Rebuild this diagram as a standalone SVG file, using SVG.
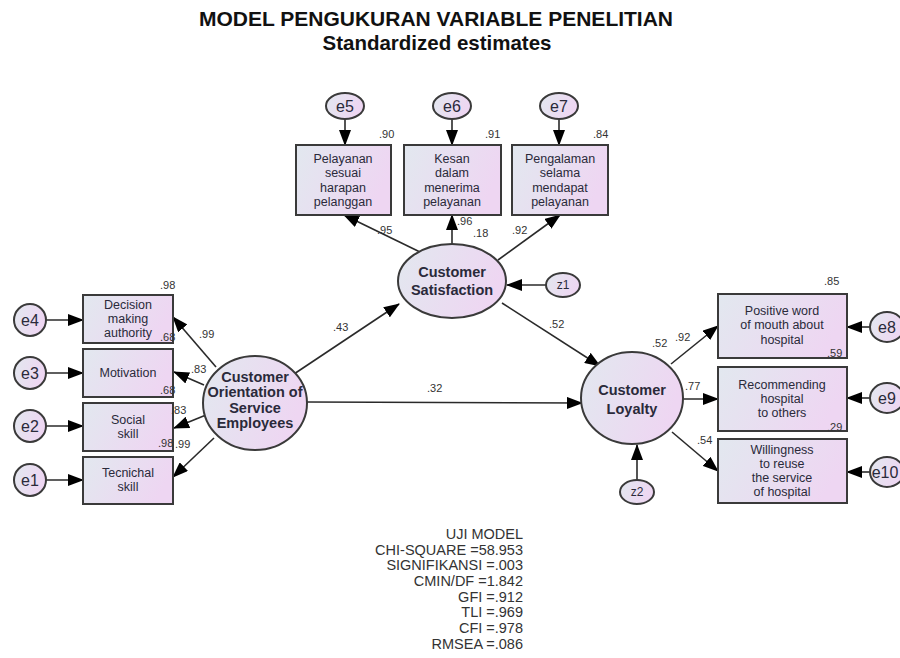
<svg xmlns="http://www.w3.org/2000/svg" width="900" height="658" viewBox="0 0 900 658">
<style>
.n{fill:url(#g);stroke:#3a3a3a;stroke-width:2}
.t{font-family:"Liberation Sans",Arial,sans-serif;font-size:12.5px;fill:#2a2a3a;text-anchor:middle}
.b{font-family:"Liberation Sans",Arial,sans-serif;font-size:14.5px;font-weight:bold;fill:#2a2a3a;text-anchor:middle}
.e{font-family:"Liberation Sans",Arial,sans-serif;font-size:16px;fill:#2a2a3a;text-anchor:middle}
.z{font-family:"Liberation Sans",Arial,sans-serif;font-size:12px;fill:#2a2a3a;text-anchor:middle}
.v{font-family:"Liberation Sans",Arial,sans-serif;font-size:11px;fill:#333}
.c line{stroke:#2a2a2a;stroke-width:1.6;marker-end:url(#a)}
.m{font-family:"Liberation Sans",Arial,sans-serif;font-size:14.5px;fill:#333;text-anchor:end}
</style>
<defs>
<linearGradient id="g" x1="0" y1="0" x2="1" y2="0.3">
<stop offset="0" stop-color="#e2e8ef"/>
<stop offset="1" stop-color="#eed6f2"/>
</linearGradient>
<marker id="a" markerUnits="userSpaceOnUse" markerWidth="16" markerHeight="12" refX="15" refY="6" orient="auto">
<path d="M0,0 L16,6 L0,12 Z" fill="#000"/>
</marker>
</defs>
<rect width="900" height="658" fill="#fff"/>
<text x="436" y="26" font-family="Liberation Sans,Arial,sans-serif" font-size="21" font-weight="bold" text-anchor="middle" fill="#111">MODEL PENGUKURAN VARIABLE PENELITIAN</text>
<text x="437" y="50" font-family="Liberation Sans,Arial,sans-serif" font-size="20.5" font-weight="bold" text-anchor="middle" fill="#111">Standardized estimates</text>

<g class="c" id="connectors">
<line x1="345" y1="119" x2="345" y2="145"/>
<line x1="452" y1="119" x2="452" y2="145"/>
<line x1="559" y1="119" x2="559" y2="145"/>
<line x1="420" y1="252" x2="344" y2="215"/>
<line x1="452" y1="243" x2="452" y2="215"/>
<line x1="498" y1="260" x2="560" y2="215"/>
<line x1="546" y1="285" x2="507" y2="285"/>
<line x1="46" y1="320" x2="83" y2="320"/>
<line x1="46" y1="373" x2="83" y2="373"/>
<line x1="46" y1="426" x2="83" y2="426"/>
<line x1="46" y1="480" x2="83" y2="480"/>
<line x1="216" y1="367" x2="173" y2="317"/>
<line x1="204" y1="385" x2="174" y2="372"/>
<line x1="206" y1="415" x2="174" y2="428"/>
<line x1="214" y1="438" x2="173" y2="477"/>
<line x1="294" y1="374" x2="399" y2="304"/>
<line x1="307" y1="402" x2="582" y2="403"/>
<line x1="502" y1="303" x2="600" y2="366"/>
<line x1="671" y1="364" x2="718" y2="326"/>
<line x1="683" y1="399" x2="718" y2="399"/>
<line x1="672" y1="432" x2="718" y2="471"/>
<line x1="870" y1="327" x2="847" y2="327"/>
<line x1="870" y1="398" x2="847" y2="398"/>
<line x1="870" y1="472" x2="847" y2="472"/>
<line x1="637" y1="480" x2="637" y2="445"/>
</g>

<g id="e5"><ellipse class="n" cx="345" cy="106" rx="19" ry="13"/><text class="e" x="345" y="112">e5</text></g>
<g id="e6"><ellipse class="n" cx="452" cy="106" rx="19" ry="13"/><text class="e" x="452" y="112">e6</text></g>
<g id="e7"><ellipse class="n" cx="559" cy="106" rx="19" ry="13"/><text class="e" x="559" y="112">e7</text></g>

<g id="pelayanan"><rect class="n" x="296" y="145" width="95" height="70"/>
<text class="t" x="343" y="163">Pelayanan</text><text class="t" x="343" y="177">sesuai</text><text class="t" x="343" y="192">harapan</text><text class="t" x="343" y="206">pelanggan</text></g>
<g id="kesan"><rect class="n" x="404" y="145" width="97" height="70"/>
<text class="t" x="452" y="163">Kesan</text><text class="t" x="452" y="177">dalam</text><text class="t" x="452" y="192">menerima</text><text class="t" x="452" y="206">pelayanan</text></g>
<g id="pengalaman"><rect class="n" x="512" y="145" width="96" height="70"/>
<text class="t" x="560" y="163">Pengalaman</text><text class="t" x="560" y="177">selama</text><text class="t" x="560" y="192">mendapat</text><text class="t" x="560" y="206">pelayanan</text></g>

<g id="satisfaction"><ellipse class="n" cx="452" cy="281" rx="54" ry="37"/>
<text class="b" x="452" y="277">Customer</text><text class="b" x="452" y="295">Satisfaction</text></g>
<g id="z1"><ellipse class="n" cx="563" cy="285" rx="17" ry="12"/><text class="z" x="563" y="289">z1</text></g>

<g id="cose"><ellipse class="n" cx="255" cy="403" rx="52" ry="47"/>
<text class="b" x="255" y="382">Customer</text><text class="b" x="255" y="397">Orientation of</text><text class="b" x="255" y="413">Service</text><text class="b" x="255" y="428">Employees</text></g>

<g id="e4"><circle class="n" cx="30" cy="320" r="16"/><text class="e" x="30" y="326">e4</text></g>
<g id="e3"><circle class="n" cx="30" cy="373" r="16"/><text class="e" x="30" y="379">e3</text></g>
<g id="e2"><circle class="n" cx="30" cy="426" r="16"/><text class="e" x="30" y="432">e2</text></g>
<g id="e1"><circle class="n" cx="30" cy="480" r="16"/><text class="e" x="30" y="486">e1</text></g>

<g id="decision"><rect class="n" x="83" y="295" width="90" height="48"/>
<text class="t" x="128" y="309">Decision</text><text class="t" x="128" y="323">making</text><text class="t" x="128" y="337">authority</text></g>
<g id="motivation"><rect class="n" x="83" y="349" width="90" height="48"/>
<text class="t" x="128" y="377">Motivation</text></g>
<g id="social"><rect class="n" x="83" y="403" width="90" height="48"/>
<text class="t" x="128" y="424">Social</text><text class="t" x="128" y="438">skill</text></g>
<g id="tecnichal"><rect class="n" x="83" y="457" width="90" height="47"/>
<text class="t" x="128" y="477">Tecnichal</text><text class="t" x="128" y="491">skill</text></g>

<g id="loyalty"><ellipse class="n" cx="632" cy="398" rx="51" ry="46"/>
<text class="b" x="632" y="395">Customer</text><text class="b" x="632" y="414">Loyalty</text></g>
<g id="z2"><ellipse class="n" cx="637" cy="492" rx="17" ry="12"/><text class="z" x="637" y="496">z2</text></g>

<g id="positive"><rect class="n" x="718" y="294" width="129" height="64"/>
<text class="t" x="782" y="315">Positive word</text><text class="t" x="782" y="329">of mouth about</text><text class="t" x="782" y="344">hospital</text></g>
<g id="recommending"><rect class="n" x="718" y="367" width="129" height="64"/>
<text class="t" x="782" y="389">Recommending</text><text class="t" x="782" y="403">hospital</text><text class="t" x="782" y="417">to others</text></g>
<g id="willingness"><rect class="n" x="718" y="439" width="129" height="64"/>
<text class="t" x="782" y="454">Willingness</text><text class="t" x="782" y="468">to reuse</text><text class="t" x="782" y="482">the service</text><text class="t" x="782" y="496">of hospital</text></g>

<g id="e8"><ellipse class="n" cx="887" cy="327" rx="17" ry="15"/><text class="e" x="887" y="333">e8</text></g>
<g id="e9"><ellipse class="n" cx="887" cy="398" rx="17" ry="15"/><text class="e" x="887" y="404">e9</text></g>
<g id="e10"><ellipse class="n" cx="887" cy="472" rx="17" ry="15"/><text class="e" x="885" y="478">e10</text></g>

<g id="values">
<text class="v" x="379" y="138">.90</text>
<text class="v" x="485" y="138">.91</text>
<text class="v" x="593" y="138">.84</text>
<text class="v" x="377" y="234">.95</text>
<text class="v" x="457" y="225">.96</text>
<text class="v" x="473" y="237">.18</text>
<text class="v" x="512" y="234">.92</text>
<text class="v" x="333" y="331">.43</text>
<text class="v" x="549" y="328">.52</text>
<text class="v" x="427" y="392">.32</text>
<text class="v" x="160" y="289">.98</text>
<text class="v" x="160" y="341">.68</text>
<text class="v" x="199" y="338">.99</text>
<text class="v" x="191" y="373">.83</text>
<text class="v" x="160" y="394">.68</text>
<text class="v" x="171" y="414">.83</text>
<text class="v" x="158" y="447">.98</text>
<text class="v" x="175" y="448">.99</text>
<text class="v" x="824" y="285">.85</text>
<text class="v" x="827" y="357">.59</text>
<text class="v" x="827" y="431">.29</text>
<text class="v" x="652" y="347">.52</text>
<text class="v" x="675" y="341">.92</text>
<text class="v" x="685" y="390">.77</text>
<text class="v" x="697" y="444">.54</text>
</g>

<g id="fit">
<text class="m" x="523" y="539">UJI MODEL</text>
<text class="m" x="523" y="555">CHI-SQUARE =58.953</text>
<text class="m" x="523" y="570">SIGNIFIKANSI =.003</text>
<text class="m" x="523" y="586">CMIN/DF =1.842</text>
<text class="m" x="523" y="602">GFI =.912</text>
<text class="m" x="523" y="617">TLI =.969</text>
<text class="m" x="523" y="633">CFI =.978</text>
<text class="m" x="523" y="649">RMSEA =.086</text>
</g>
</svg>
